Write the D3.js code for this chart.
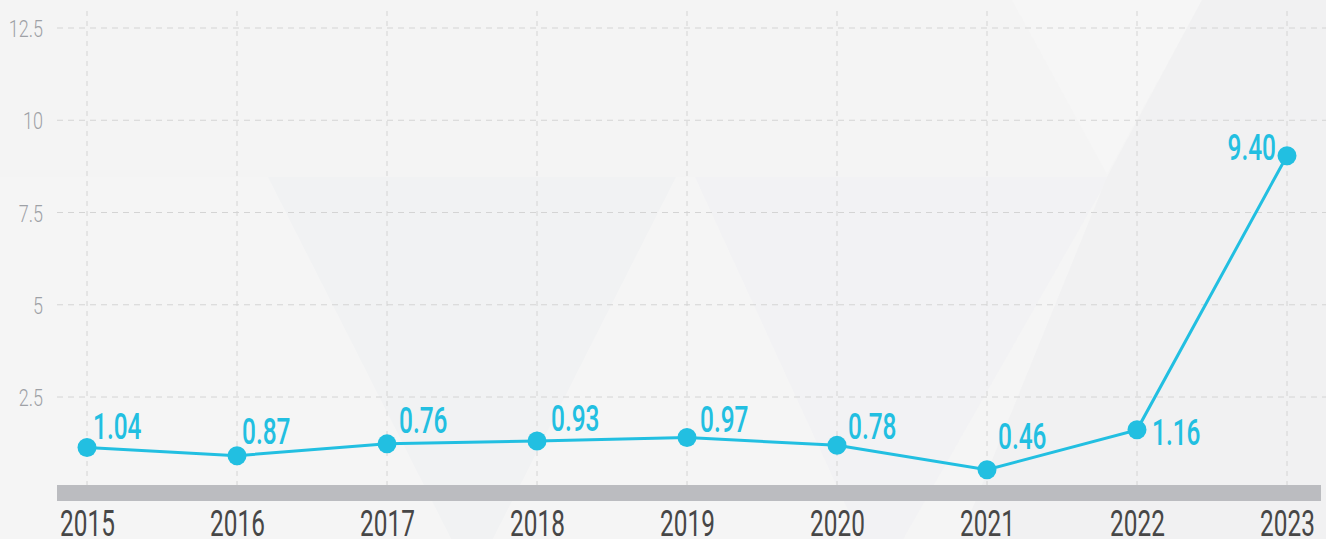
<!DOCTYPE html>
<html>
<head>
<meta charset="utf-8">
<script src="https://cdn.jsdelivr.net/npm/d3@7/dist/d3.min.js"></script>
<style>
  body { margin: 0; background: #f5f5f5; }
  svg { display: block; }
  text { font-family: Roboto, "DejaVu Sans Condensed", sans-serif; }
</style>
</head>
<body>
<div id="chart"></div>
<script>
// chart data
var years = ["2015", "2016", "2017", "2018", "2019", "2020", "2021", "2022", "2023"];
// where the markers sit on the value axis
var values = [1.13, 0.91, 1.23, 1.31, 1.40, 1.19, 0.53, 1.61, 9.04];
// the printed labels next to each marker
var labels = ["1.04", "0.87", "0.76", "0.93", "0.97", "0.78", "0.46", "1.16", "9.40"];
var yTicks = [2.5, 5, 7.5, 10, 12.5];

// label nudges (layout only)
var labelOffset = [[6, -9], [5, -12], [12, -11], [14, -10], [13, -6], [11, -6], [11, -21], [15, 15], [-11, 4]];

var width = 1326, height = 539;
var plotLeft = 57, plotRight = 1326, barTop = 485, barBottom = 501;
var fontStack = "Roboto, 'DejaVu Sans Condensed', sans-serif";

var xScale = d3.scalePoint().domain(years).range([87, 1287]);
var yScale = d3.scaleLinear().domain([0, 12.5]).range([489.25, 28]);

var svg = d3.select("#chart")
    .append("svg")
    .attr("width", width)
    .attr("height", height);

// background shapes (very faint)
svg.append("rect").attr("width", width).attr("height", height).attr("fill", "#f4f4f4");
svg.append("rect").attr("x", 0).attr("y", 177).attr("width", width).attr("height", height - 177).attr("fill", "#f5f5f5");
var shapes = [
    {pts: [[268, 177], [676, 177], [472, 580]], fill: "#f1f2f3"},
    {pts: [[695, 177], [1109, 177], [880, 580]], fill: "#f2f2f4"},
    {pts: [[1012, 0], [1202, 0], [1107, 174]], fill: "#f6f6f6"},
    {pts: [[1202, 0], [1326, 0], [1326, 539], [960, 539], [1107, 177]], fill: "#f1f1f2"}
];
svg.selectAll("polygon.bg")
    .data(shapes)
    .enter()
    .append("polygon")
    .attr("class", "bg")
    .attr("points", function(d) { return d.pts.map(function(p) { return p.join(","); }).join(" "); })
    .attr("fill", function(d) { return d.fill; });

// horizontal grid
svg.append("g")
    .selectAll("line")
    .data(yTicks)
    .enter()
    .append("line")
    .attr("x1", plotLeft)
    .attr("x2", plotRight)
    .attr("y1", function(d) { return yScale(d); })
    .attr("y2", function(d) { return yScale(d); })
    .attr("stroke", "#d4d4d4")
    .attr("stroke-width", 1)
    .attr("stroke-dasharray", "6,5");

// vertical grid
svg.append("g")
    .selectAll("line")
    .data(years)
    .enter()
    .append("line")
    .attr("x1", function(d) { return xScale(d); })
    .attr("x2", function(d) { return xScale(d); })
    .attr("y1", 11)
    .attr("y2", barTop)
    .attr("stroke", "#d4d4d4")
    .attr("stroke-width", 1)
    .attr("stroke-dasharray", "5,5");

// grey base bar
svg.append("rect")
    .attr("x", plotLeft)
    .attr("y", barTop)
    .attr("width", 1321 - plotLeft)
    .attr("height", barBottom - barTop)
    .attr("fill", "#bbbcc0");

// y axis
var ySx = 0.75;
var yAxis = d3.axisLeft(yScale)
    .tickValues(yTicks)
    .tickFormat(function(d) { return d; })
    .tickSize(0)
    .tickPadding(0);
var yG = svg.append("g")
    .attr("transform", "translate(" + plotLeft + ",0)")
    .call(yAxis);
yG.select(".domain").remove();
yG.selectAll("text")
    .attr("x", -14 / ySx)
    .attr("dy", "0.36em")
    .attr("transform", "scale(" + ySx + ",1)")
    .attr("fill", "#9ea1a6")
    .style("font-size", "24px")
    .style("font-weight", 300)
    .style("font-family", fontStack);

// x axis
var xSx = 0.65;
var xAxis = d3.axisBottom(xScale).tickSize(0).tickPadding(0);
var xG = svg.append("g")
    .attr("transform", "translate(0," + barBottom + ")")
    .call(xAxis);
xG.select(".domain").remove();
xG.selectAll("text")
    .attr("y", 35)
    .attr("dy", null)
    .attr("transform", "scale(" + xSx + ",1)")
    .attr("fill", "#474747")
    .style("font-size", "37.5px")
    .style("font-family", fontStack);

// line
var points = years.map(function(y, i) { return {year: y, value: values[i], label: labels[i], off: labelOffset[i]}; });

var line = d3.line()
    .x(function(d) { return xScale(d.year); })
    .y(function(d) { return yScale(d.value); });

svg.append("path")
    .datum(points)
    .attr("d", line)
    .attr("fill", "none")
    .attr("stroke", "#22bfe1")
    .attr("stroke-width", 3);

svg.selectAll("circle.pt")
    .data(points)
    .enter()
    .append("circle")
    .attr("class", "pt")
    .attr("cx", function(d) { return xScale(d.year); })
    .attr("cy", function(d) { return yScale(d.value); })
    .attr("r", 9.5)
    .attr("fill", "#22bfe1");

// value labels
svg.selectAll("text.val")
    .data(points)
    .enter()
    .append("text")
    .attr("class", "val")
    .attr("transform", function(d) {
        return "translate(" + (xScale(d.year) + d.off[0]) + "," + (yScale(d.value) + d.off[1]) + ") scale(0.67,1)";
    })
    .attr("text-anchor", function(d) { return d.off[0] < 0 ? "end" : "start"; })
    .attr("fill", "#22bfe1")
    .style("font-size", "36.5px")
    .style("font-weight", 500)
    .style("font-family", fontStack)
    .text(function(d) { return d.label; });
</script>
</body>
</html>
